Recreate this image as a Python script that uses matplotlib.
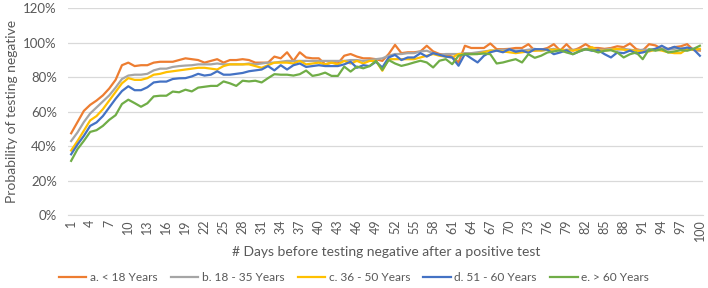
import matplotlib
matplotlib.use("Agg")
import matplotlib.pyplot as plt
from matplotlib.ticker import PercentFormatter

days = list(range(1, 101))

under_18 = [
    47.5, 54, 60.5, 64, 66.5, 69.5, 73.5, 78.5, 87, 88.5,
    86.5, 87, 87, 88.5, 89, 89, 89, 90, 91, 90.5,
    90, 88.5, 89.5, 90.5, 88.5, 90, 90, 90.5, 90, 88.5,
    88.5, 88.5, 92, 91, 94.5, 89.5, 94.5, 91.5, 91, 91,
    87.5, 88.5, 88, 92.5, 93.5, 92, 91, 91, 90.5, 89.5,
    93.5, 98.8, 94, 94.5, 94.5, 95, 98.3, 95, 93.5, 93,
    92, 88.6, 98.3, 97, 97, 97, 99.6, 96.3, 96.3, 96.5,
    97, 97, 99.2, 95.5, 96, 97, 99.2, 95.5, 99.2, 95.5,
    97, 99.2, 97, 97, 96.5, 97, 98, 97.5, 99.6, 96.3,
    95.5, 99.2, 98.5, 96.5, 96.5, 97.5, 98, 99.2, 95.8, 95.5,
]
age_18_35 = [
    43, 48, 54, 59, 62.5, 66, 69.5, 74, 79, 81,
    81.5, 81.5, 82, 84, 85, 85, 86, 86.5, 86.8, 87,
    87.5, 87.5, 87.5, 88, 87.5, 87.5, 87.5, 87.5, 88, 87.5,
    88, 88.5, 88.5, 89, 89.5, 89.5, 89.5, 89.5, 89.5, 89.5,
    89.5, 89.5, 89.5, 89.5, 90, 90, 89.5, 90, 90.5, 91,
    92.5, 93.5, 93.5, 94, 94, 95, 95.4, 94, 93, 93.5,
    93.5, 93.5, 94, 94, 94.5, 95, 95.5, 95.5, 96, 96,
    95.5, 95.5, 96, 96.5, 95.5, 96, 96.5, 95.5, 96, 96,
    96, 96.5, 96.5, 96, 96, 96.5, 96, 96.5, 96, 95.5,
    96, 96, 96.5, 96.5, 96, 96.5, 97, 96.5, 96.5, 96,
]
age_36_50 = [
    37.5, 43, 49, 55, 57.5, 61.5, 66.5, 71.5, 76.5, 79.5,
    78.5, 78.5, 79.5, 81.5, 82, 83, 83.5, 84, 84.5, 85,
    85.5, 85.5, 85, 84.5, 86.5, 87.5, 87.5, 87.5, 87.5, 86.5,
    85.5, 87, 88.5, 88.5, 88.5, 88, 89.5, 87.5, 88, 88.5,
    87.5, 88.5, 87.5, 89.5, 88, 89.5, 88, 89.5, 89.5, 83.8,
    90.5, 90.5, 90.5, 90.5, 90.5, 91.5, 92.5, 93.5, 92.5, 92,
    91.5, 93.5, 93.5, 93.5, 93.5, 94.5, 95.5, 95.5, 95, 94.5,
    94, 94.5, 95, 95.5, 95.5, 96, 96, 96, 95.5, 95.5,
    96, 96, 97.5, 95.5, 95.5, 96, 96.5, 96, 95.5, 95.5,
    95, 95, 96, 95.5, 94.5, 94, 94, 96.5, 96, 96.5,
]
age_51_60 = [
    35.3, 41, 46, 51.8, 53.8, 57.5, 62.5, 67.5, 72, 74.8,
    72.5, 72.5, 74.2, 77, 77.5, 77.5, 79, 79.4, 79.5, 80.5,
    82, 81, 81.5, 83.5, 81.5, 81.5, 82, 82.5, 83.5, 84,
    84.5, 86.5, 84, 87, 84.5, 87, 88, 86, 86.5, 87,
    86.5, 86.5, 86.5, 87.5, 89, 85.5, 87, 86.5, 89, 85.7,
    91.5, 93, 90, 91.5, 91.5, 94, 92, 94, 93, 92,
    91.5, 86.7, 93.5, 91, 88.6, 92.5, 94.5, 95.5, 94.5, 96.3,
    94.8, 95.5, 94.2, 96.3, 96.3, 96, 93.4, 94.4, 95.7, 93.4,
    95, 96.3, 95.4, 95.7, 93.4, 91.5, 94.4, 94, 95.5, 93.8,
    94.4, 95.5, 96.5, 98.3, 96.3, 97.7, 96.3, 97.3, 96.3, 92.5,
]
over_60 = [
    31.5, 38.3, 43.1, 48.3, 49.3, 51.8, 55.3, 58, 64.5, 67,
    65, 62.9, 64.9, 68.9, 69.3, 69.3, 71.7, 71.3, 72.8, 71.8,
    74, 74.5, 75, 75, 77.6, 76.5, 75, 78, 77.6, 78,
    77, 79.5, 81.8, 81.5, 81.5, 81, 81.8, 83.9, 80.8, 81.5,
    82.7, 80.8, 80.8, 86.2, 83.3, 86.2, 85.2, 86.5, 89.5, 84.3,
    90, 88, 86.6, 87.5, 88.6, 89.6, 88.6, 85.7, 89.6, 90.5,
    87.6, 92.5, 93.4, 93.4, 93.5, 93.8, 93.4, 88, 88.6, 89.6,
    90.5, 88.6, 93.4, 91.3, 92.5, 94.4, 95, 95.7, 94.4, 93.4,
    95, 96.3, 95.7, 94.4, 95.4, 95.7, 94.4, 91.5, 93.4, 94.4,
    90.5, 96.3, 95.4, 96.3, 94.4, 95, 95.7, 95.4, 96.5, 98.3,
]

series = [
    ("a. < 18 Years", under_18, "#ED7D31"),
    ("b. 18 - 35 Years", age_18_35, "#A5A5A5"),
    ("c. 36 - 50 Years", age_36_50, "#FFC000"),
    ("d. 51 - 60 Years", age_51_60, "#4472C4"),
    ("e. > 60 Years", over_60, "#70AD47"),
]

plt.rcParams["font.family"] = ["Lato", "DejaVu Sans"]
text_color = "#595959"

fig = plt.figure(figsize=(7.08, 2.88), dpi=100)
ax = fig.add_axes([0.096, 0.253, 0.897, 0.718])

for label, values, color in series:
    ax.plot(days, values, color=color, linewidth=1.6, label=label)

ax.set_xlim(0.5, 100.5)
ax.set_ylim(0, 120)
ax.set_yticks(range(0, 121, 20))
ax.yaxis.set_major_formatter(PercentFormatter(decimals=0))
ax.set_xticks(days[::3])
ax.tick_params(axis="x", labelrotation=90, length=0, labelsize=9, colors=text_color, pad=3)
ax.tick_params(axis="y", length=0, labelsize=9.5, colors=text_color, pad=8)
ax.grid(axis="y", color="#D9D9D9", linewidth=0.9)
ax.set_axisbelow(True)
for side in ["top", "right", "left"]:
    ax.spines[side].set_visible(False)
ax.spines["bottom"].set_color("#D9D9D9")

ax.set_ylabel("Probability of testing negative", fontsize=10, color=text_color, labelpad=4)
fig.text(0.545, 0.125, "# Days before testing negative after a positive test",
         ha="center", va="center", fontsize=10, color=text_color)
fig.legend(loc="center", bbox_to_anchor=(0.5, 0.035), ncol=5, frameon=False,
           fontsize=8.6, labelcolor=text_color, handlelength=2.3, handletextpad=0.3,
           columnspacing=1.1)

fig.savefig("out.png", dpi=100)
